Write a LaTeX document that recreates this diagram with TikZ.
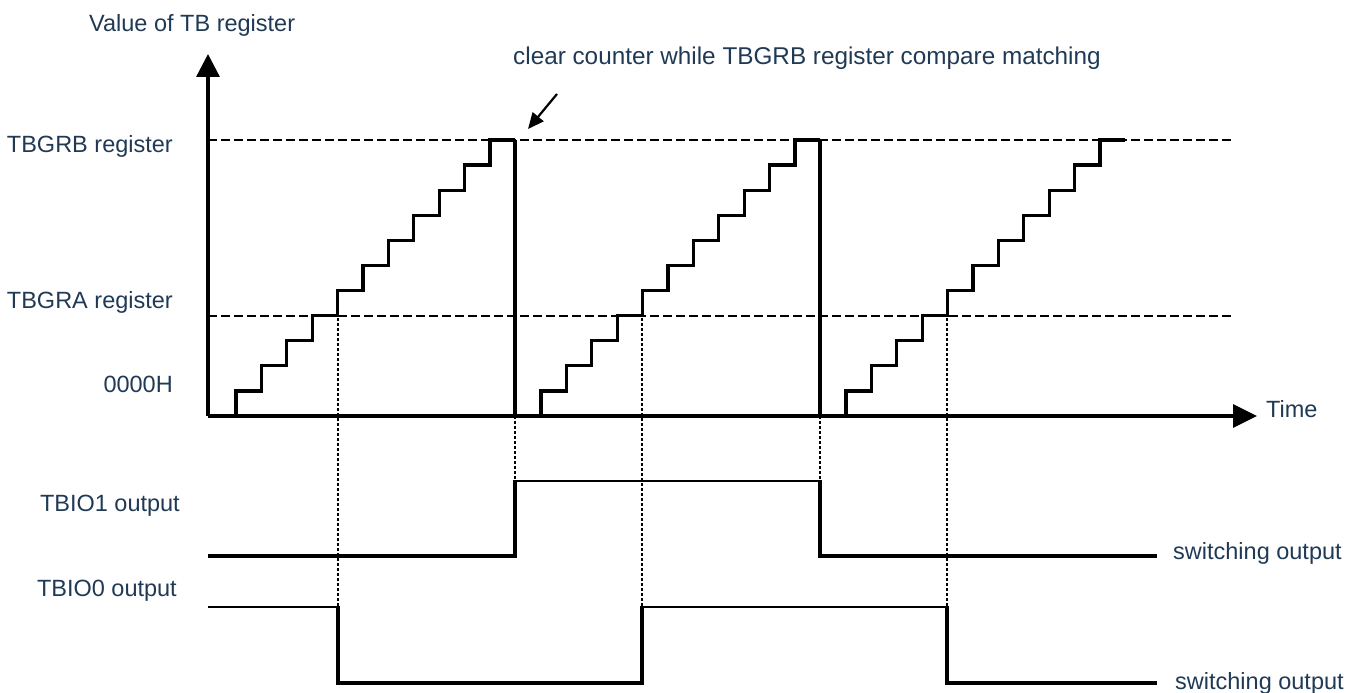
\documentclass[tikz,border=0pt]{standalone}
\usepackage{fontspec}
\setmainfont{Liberation Sans}
\usetikzlibrary{arrows.meta}
\definecolor{txt}{HTML}{203A56}
\tikzset{
  lbl/.style={inner sep=0pt, text=txt, font=\fontsize{23.5}{28}\selectfont},
  axis/.style={line width=3.3pt},
  stair/.style={line width=3.3pt, line join=miter},
  refline/.style={line width=2.7pt, dash pattern=on 8.5pt off 4.5pt},
  guide/.style={line width=2.4pt, dash pattern=on 2.6pt off 2.4pt},
  sighi/.style={line width=2.5pt},
  siglo/.style={line width=3.3pt},
}
\begin{document}
\begin{tikzpicture}[x=1pt,y=-1pt]
\useasboundingbox (0,0) rectangle (1360,693);
% axes
\coordinate (O) at (208,416);
\coordinate (Ytip) at (208,54);
\coordinate (Xtip) at (1257,416);
% reference lines
\coordinate (Bl) at (208,140); \coordinate (Br) at (1232,140);
\coordinate (Al) at (208,316); \coordinate (Ar) at (1232,316);
\draw[refline] (Bl) -- (Br);
\draw[refline] (Al) -- (Ar);
% staircases
\def\sw{25.4}\def\sh{25.09}
\foreach \s in {236,541,846}{
  \draw[stair] (\s,416)
    \foreach \k in {0,...,10}{ -- ({\s+\k*\sw},{416-(\k+1)*\sh}) -- ({\s+(\k+1)*\sw},{416-(\k+1)*\sh}) };
}
% clears
\coordinate (D1t) at (515,140); \coordinate (D1b) at (515,416);
\coordinate (D2t) at (820,140); \coordinate (D2b) at (820,416);
\draw[stair] (D1t) -- (D1b);
\draw[stair] (D2t) -- (D2b);
\draw[axis,-{Triangle[length=23pt,width=23pt]}] (O) -- (Ytip);
\draw[axis,-{Triangle[length=24pt,width=23pt]}] (O) -- (Xtip);
% guides
\draw[guide] (338,318) -- (338,607);
\draw[guide] (642,318) -- (642,607);
\draw[guide] (947,318) -- (947,607);
\draw[guide] (D1b) -- (515,481);
\draw[guide] (D2b) -- (820,481);
% TBIO1
\draw[siglo] (208,556) -- (515,556) -- (515,479.8);
\draw[sighi] (515,481) -- (820,481);
\draw[siglo] (820,479.8) -- (820,556) -- (1157,556);
% TBIO0
\draw[sighi] (208,607) -- (338,607);
\draw[siglo] (338,605.8) -- (338,683) -- (642,683) -- (642,605.8);
\draw[sighi] (642,607) -- (947,607);
\draw[siglo] (947,605.8) -- (947,683) -- (1157,683);
% annotation arrow
\coordinate (At) at (557,94);
\coordinate (Ah) at (528,129);
\draw[line width=2.2pt,-{Triangle[length=16pt,width=14pt]}] (At) -- (Ah);
% labels
\node[lbl, anchor=base west] (vt) at (89,32) {Value of TB register};
\node[lbl, anchor=base west, font=\fontsize{24.3}{28}\selectfont] (cc) at (513,64) {clear counter while TBGRB register compare matching};
\node[lbl, anchor=base east] (lb) at (173,152) {TBGRB register};
\node[lbl, anchor=base east] (la) at (173,308) {TBGRA register};
\node[lbl, anchor=base east] (l0) at (173,392) {0000H};
\node[lbl, anchor=base east] (l1) at (180,511) {TBIO1 output};
\node[lbl, anchor=base east] (l2) at (177,596) {TBIO0 output};
\node[lbl, anchor=base west] (tm) at (1266,417) {Time};
\node[lbl, anchor=base west] (s1) at (1173,559) {switching output};
\node[lbl, anchor=base west] (s2) at (1175,689) {switching output};
\end{tikzpicture}
\end{document}
